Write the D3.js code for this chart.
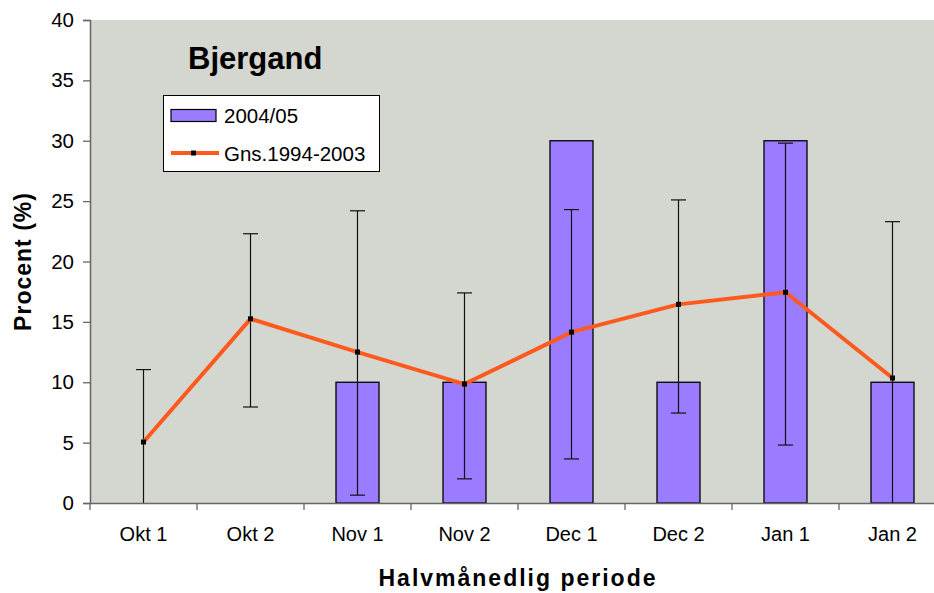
<!DOCTYPE html>
<html>
<head>
<meta charset="utf-8">
<script src="https://cdn.jsdelivr.net/npm/d3@7"></script>
<style>
  body { margin: 0; background: #fff; }
  svg { display: block; font-family: "Liberation Sans", Arial, sans-serif; }
</style>
</head>
<body>
<div id="chart"></div>
<script>
// periods on the x axis
const periods = ["Okt 1", "Okt 2", "Nov 1", "Nov 2", "Dec 1", "Dec 2", "Jan 1", "Jan 2"];
// 2004/05 season (bars)
const season0405 = [0, 0, 10, 10, 30, 10, 30, 10];
// average 1994-2003 (line)
const avg9403 = [5.05, 15.25, 12.5, 9.85, 14.15, 16.45, 17.45, 10.35];
// error bar ends
const errHigh = [11.05, 22.3, 24.2, 17.4, 24.3, 25.1, 29.8, 23.3];
const errLow = [-0.95, 7.95, 0.65, 2.0, 3.65, 7.45, 4.8, -2.6];
const yTicks = [0, 5, 10, 15, 20, 25, 30, 35, 40];

const width = 934;
const height = 593;
const plotLeft = 90, plotTop = 20, plotBottom = 503;
const band = 107;
const plotRight = plotLeft + band * periods.length;

const x = d3.scaleBand().domain(periods).range([plotLeft, plotRight]);
const y = d3.scaleLinear().domain([0, 40]).range([plotBottom, plotTop]);

const svg = d3.select("#chart").append("svg")
  .attr("width", width)
  .attr("height", height);

svg.append("clipPath").attr("id", "plotclip")
  .append("rect")
  .attr("x", plotLeft).attr("y", plotTop)
  .attr("width", plotRight - plotLeft).attr("height", plotBottom - plotTop);

// plot background
svg.append("rect")
  .attr("x", plotLeft).attr("y", plotTop)
  .attr("width", plotRight - plotLeft).attr("height", plotBottom - plotTop)
  .attr("fill", "#d4d6d0");

const plot = svg.append("g").attr("clip-path", "url(#plotclip)");

// bars
const barW = 43;
plot.selectAll("rect.bar")
  .data(periods.map((p, i) => ({ p: p, v: season0405[i] })).filter(d => d.v > 0))
  .enter()
  .append("rect")
  .attr("class", "bar")
  .attr("x", d => x(d.p) + x.bandwidth() / 2 - barW / 2)
  .attr("y", d => y(d.v))
  .attr("width", barW)
  .attr("height", d => plotBottom - y(d.v))
  .attr("fill", "#9b7bff")
  .attr("stroke", "#000")
  .attr("stroke-width", 1.3);

// error bars
const cx = (p) => x(p) + x.bandwidth() / 2;
const capW = 15;
periods.forEach((p, i) => {
  plot.append("line")
    .attr("x1", cx(p)).attr("x2", cx(p))
    .attr("y1", y(errHigh[i])).attr("y2", y(errLow[i]))
    .attr("stroke", "#111").attr("stroke-width", 1.2);
  [errHigh[i], errLow[i]].forEach(v => {
    plot.append("line")
      .attr("x1", cx(p) - capW / 2).attr("x2", cx(p) + capW / 2)
      .attr("y1", y(v)).attr("y2", y(v))
      .attr("stroke", "#111").attr("stroke-width", 1.2);
  });
});

// average line
const line = d3.line()
  .x((d, i) => cx(periods[i]))
  .y(d => y(d));

plot.append("path")
  .datum(avg9403)
  .attr("d", line)
  .attr("fill", "none")
  .attr("stroke", "#ff5a1e")
  .attr("stroke-width", 4)
  .attr("stroke-linejoin", "round");

plot.selectAll("rect.mark")
  .data(avg9403)
  .enter()
  .append("rect")
  .attr("class", "mark")
  .attr("x", (d, i) => cx(periods[i]) - 2.5)
  .attr("y", d => y(d) - 2.5)
  .attr("width", 5)
  .attr("height", 5)
  .attr("fill", "#000");

// y axis
const yAxis = d3.axisLeft(y).tickValues(yTicks).tickSize(7).tickPadding(9);
const gy = svg.append("g")
  .attr("transform", "translate(" + plotLeft + ",0)")
  .call(yAxis);
gy.select(".domain").attr("stroke", "#666").attr("stroke-width", 1.5);
gy.selectAll(".tick line").attr("stroke", "#666").attr("stroke-width", 1.3);
gy.selectAll(".tick text")
  .attr("font-size", "20.5px")
  .attr("font-family", "Liberation Sans, Arial, sans-serif")
  .attr("fill", "#000");

// x axis
const xAxis = d3.axisBottom(x).tickSize(0).tickPadding(24);
const gx = svg.append("g")
  .attr("transform", "translate(0," + plotBottom + ")")
  .call(xAxis);
gx.select(".domain").attr("stroke", "#666").attr("stroke-width", 1.5);
gx.selectAll(".tick text")
  .attr("font-size", "20px")
  .attr("font-family", "Liberation Sans, Arial, sans-serif")
  .attr("fill", "#000");

// ticks at category boundaries
svg.selectAll("line.xb")
  .data(d3.range(periods.length + 1))
  .enter()
  .append("line")
  .attr("class", "xb")
  .attr("x1", i => plotLeft + i * x.step())
  .attr("x2", i => plotLeft + i * x.step())
  .attr("y1", plotBottom)
  .attr("y2", plotBottom + 7)
  .attr("stroke", "#666")
  .attr("stroke-width", 1.3);

// title inside plot
svg.append("text")
  .attr("x", 188)
  .attr("y", 69)
  .attr("font-size", "31px")
  .attr("font-weight", "bold")
  .text("Bjergand");

// axis titles
svg.append("text")
  .attr("x", (plotLeft + plotRight) / 2)
  .attr("y", 586)
  .attr("text-anchor", "middle")
  .attr("font-size", "23px")
  .attr("font-weight", "bold")
  .attr("letter-spacing", "2px")
  .text("Halvmånedlig periode");

svg.append("text")
  .attr("transform", "translate(31," + (plotTop + plotBottom) / 2 + ") rotate(-90)")
  .attr("text-anchor", "middle")
  .attr("font-size", "23px")
  .attr("font-weight", "bold")
  .attr("letter-spacing", "1px")
  .text("Procent (%)");

// legend
const legend = svg.append("g");
legend.append("rect")
  .attr("x", 163.5).attr("y", 95.5)
  .attr("width", 216).attr("height", 76)
  .attr("fill", "#fff")
  .attr("stroke", "#000")
  .attr("stroke-width", 1);
legend.append("rect")
  .attr("x", 171).attr("y", 109.5)
  .attr("width", 45).attr("height", 12)
  .attr("fill", "#9b7bff")
  .attr("stroke", "#000")
  .attr("stroke-width", 1.2);
legend.append("text")
  .attr("x", 224).attr("y", 122.5)
  .attr("font-size", "20.5px")
  .text("2004/05");
legend.append("line")
  .attr("x1", 171).attr("x2", 219)
  .attr("y1", 153).attr("y2", 153)
  .attr("stroke", "#ff5a1e")
  .attr("stroke-width", 4);
legend.append("rect")
  .attr("x", 191).attr("y", 150.5)
  .attr("width", 5).attr("height", 5)
  .attr("fill", "#000");
legend.append("text")
  .attr("x", 224).attr("y", 160.5)
  .attr("font-size", "20.5px")
  .text("Gns.1994-2003");
</script>
</body>
</html>
